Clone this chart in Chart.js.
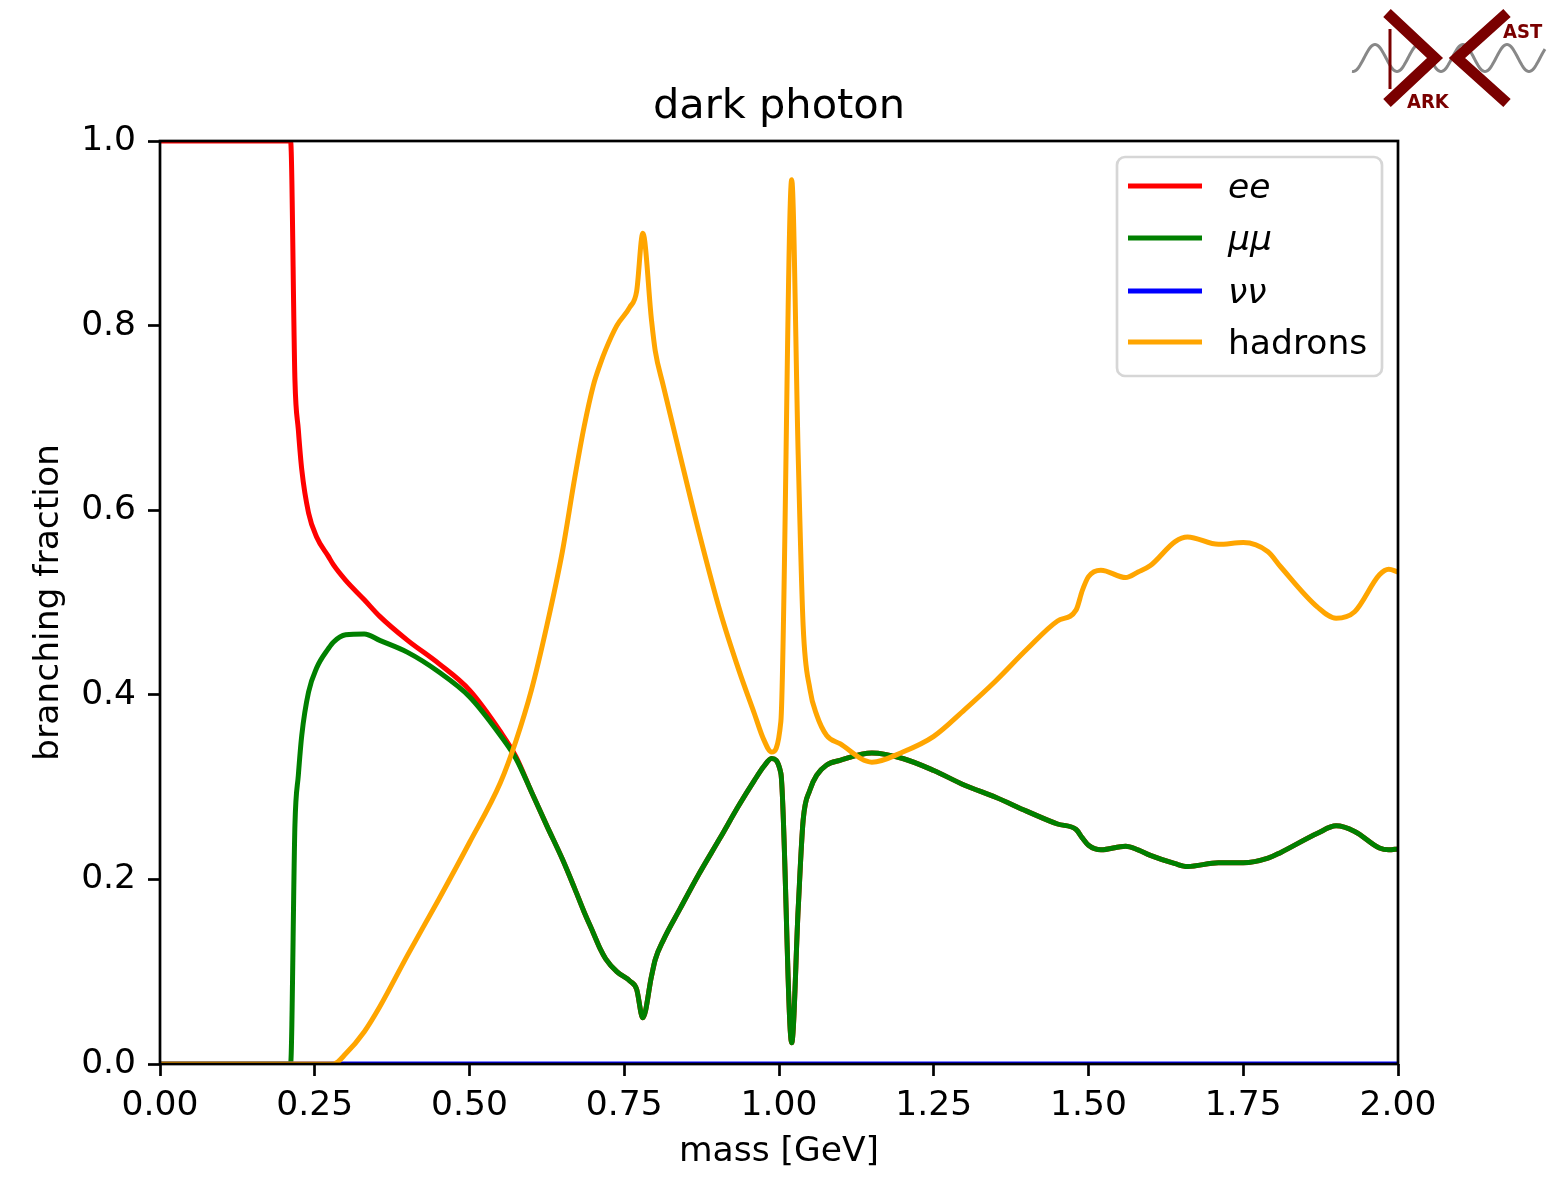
<!DOCTYPE html>
<html>
<head>
<meta charset="utf-8">
<title>dark photon</title>
<script src="https://cdn.jsdelivr.net/npm/chart.js@4.4.1/dist/chart.umd.min.js"></script>
<style>
  body { margin: 0; background: #fff; }
  canvas { display: block; }
</style>
</head>
<body>
<canvas id="chartCanvas" width="1547" height="1179"></canvas>
<script>
// mass grid in GeV (denser around the thresholds and the rho / phi resonances)
const mass = [0, 0.1, 0.2, 0.211, 0.218, 0.2235, 0.229, 0.24, 0.253, 0.272, 0.28, 0.30, 0.33, 0.355,
  0.40, 0.45, 0.50, 0.55, 0.575, 0.60, 0.625, 0.65, 0.67, 0.685, 0.70, 0.711, 0.72, 0.738, 0.759, 0.770, 0.780,
  0.794, 0.80, 0.813, 0.84, 0.87, 0.905, 0.935, 0.96, 0.975, 0.988, 1.003, 1.0205, 1.031, 1.039,
  1.05, 1.061, 1.077, 1.0985, 1.15, 1.20, 1.25, 1.30, 1.35, 1.40, 1.45, 1.48, 1.49, 1.50, 1.52,
  1.56, 1.58, 1.60, 1.64, 1.66, 1.71, 1.75, 1.79, 1.81, 1.87, 1.90, 1.93, 1.97, 1.985, 2.0];

const ee = [1, 1, 1, 1, 0.741, 0.687, 0.644, 0.597, 0.571, 0.550, 0.541, 0.524, 0.503, 0.485,
  0.459, 0.434, 0.405, 0.36, 0.333, 0.295, 0.258, 0.222, 0.19, 0.165, 0.142, 0.125, 0.114, 0.100, 0.090, 0.081, 0.050,
  0.095, 0.113, 0.134, 0.168, 0.205, 0.245, 0.28, 0.307, 0.322, 0.331, 0.315, 0.023, 0.168, 0.264,
  0.297, 0.313, 0.324, 0.329, 0.337, 0.331, 0.318, 0.302, 0.289, 0.274, 0.260, 0.254, 0.245, 0.237, 0.232,
  0.236, 0.232, 0.226, 0.217, 0.214, 0.218, 0.218, 0.223, 0.229, 0.25, 0.258, 0.252, 0.234, 0.232, 0.233];

const mumu = [0, 0, 0, 0, 0.259, 0.313, 0.356, 0.403, 0.429, 0.450, 0.457, 0.465, 0.466, 0.459,
  0.446, 0.425, 0.398, 0.356, 0.331, 0.295, 0.258, 0.222, 0.19, 0.165, 0.142, 0.125, 0.114, 0.100, 0.090, 0.081, 0.050,
  0.095, 0.113, 0.134, 0.168, 0.205, 0.245, 0.28, 0.307, 0.322, 0.331, 0.315, 0.023, 0.168, 0.264,
  0.297, 0.313, 0.324, 0.329, 0.337, 0.331, 0.318, 0.302, 0.289, 0.274, 0.260, 0.254, 0.245, 0.237, 0.232,
  0.236, 0.232, 0.226, 0.217, 0.214, 0.218, 0.218, 0.223, 0.229, 0.25, 0.258, 0.252, 0.234, 0.232, 0.233];

const nunuMass = [0, 2];
const nunu = [0, 0];

const hadrons = [0, 0, 0, 0, 0, 0, 0, 0, 0, 0, 0, 0.011, 0.035, 0.062,
  0.118, 0.178, 0.24, 0.305, 0.35, 0.405, 0.475, 0.555, 0.635, 0.69, 0.735, 0.758, 0.774, 0.80, 0.82, 0.837, 0.900,
  0.806, 0.773, 0.735, 0.66, 0.578, 0.49, 0.427, 0.38, 0.352, 0.338, 0.371, 0.958, 0.66, 0.475,
  0.406, 0.378, 0.356, 0.347, 0.327, 0.338, 0.355, 0.384, 0.415, 0.449, 0.48, 0.492, 0.513, 0.528, 0.535,
  0.527, 0.533, 0.540, 0.566, 0.571, 0.563, 0.565, 0.555, 0.539, 0.495, 0.483, 0.49, 0.53, 0.536, 0.533];

const labels = ['ee', 'μμ', 'νν', 'hadrons'];
const italic = [true, true, true, false];
const colors = ['#ff0000', '#008000', '#0000ff', '#ffa500'];

const xTicks = ['0.00', '0.25', '0.50', '0.75', '1.00', '1.25', '1.50', '1.75', '2.00'];
const yTicks = ['0.0', '0.2', '0.4', '0.6', '0.8', '1.0'];

const FONT = "'DejaVu Sans', sans-serif";
const SIZE = 34.5;

function pts(xs, ys) {
  return xs.map((m, i) => ({ x: m, y: ys[i] }));
}

function lineSet(label, data, color, order) {
  return {
    label: label,
    data: data,
    borderColor: color,
    backgroundColor: color,
    borderWidth: 5,
    pointRadius: 0,
    fill: false,
    cubicInterpolationMode: 'monotone',
    borderJoinStyle: 'round',
    clip: 0,
    order: order
  };
}

// frame, legend, title, axis labels and logo
const decorations = {
  id: 'decorations',
  afterDatasetsDraw(chart) {
    const ctx = chart.ctx;
    const a = chart.chartArea;
    ctx.save();
    ctx.strokeStyle = '#000';
    ctx.lineWidth = 2.7;
    ctx.strokeRect(a.left, a.top, a.right - a.left, a.bottom - a.top);

    // legend box
    const bx = 1117, by = 157, bw = 265, bh = 219, r = 8;
    ctx.beginPath();
    ctx.moveTo(bx + r, by);
    ctx.arcTo(bx + bw, by, bx + bw, by + bh, r);
    ctx.arcTo(bx + bw, by + bh, bx, by + bh, r);
    ctx.arcTo(bx, by + bh, bx, by, r);
    ctx.arcTo(bx, by, bx + bw, by, r);
    ctx.closePath();
    ctx.fillStyle = 'rgba(255,255,255,0.8)';
    ctx.fill();
    ctx.strokeStyle = '#d6d6d6';
    ctx.lineWidth = 2.7;
    ctx.stroke();

    const rows = [186, 238, 291, 342];
    chart.data.datasets.forEach((ds, i) => {
      const y = rows[i];
      ctx.strokeStyle = ds.borderColor;
      ctx.lineWidth = 5;
      ctx.beginPath();
      ctx.moveTo(1128, y);
      ctx.lineTo(1202, y);
      ctx.stroke();
      ctx.fillStyle = '#000';
      ctx.font = (italic[i] ? 'italic ' : '') + SIZE + 'px ' + FONT;
      ctx.textAlign = 'left';
      ctx.textBaseline = 'alphabetic';
      ctx.fillText(ds.label, 1228, y + 12);
    });
    ctx.restore();
  },
  afterDraw(chart) {
    const ctx = chart.ctx;
    const a = chart.chartArea;
    const cx = (a.left + a.right) / 2;
    ctx.save();
    ctx.fillStyle = '#000';
    ctx.textAlign = 'center';
    ctx.textBaseline = 'alphabetic';
    ctx.font = '41.5px ' + FONT;
    ctx.fillText('dark photon', cx, 118);
    ctx.font = SIZE + 'px ' + FONT;
    ctx.fillText('mass [GeV]', cx, 1161);
    ctx.translate(58, (a.top + a.bottom) / 2);
    ctx.rotate(-Math.PI / 2);
    ctx.fillText('branching fraction', 0, 0);
    ctx.restore();

    // logo
    ctx.save();
    ctx.strokeStyle = '#888888';
    ctx.lineWidth = 3;
    ctx.beginPath();
    for (let x = 1352; x <= 1545; x++) {
      const y = 58 - 13.5 * Math.sin(2 * Math.PI * (x - 1364) / 44);
      if (x === 1352) ctx.moveTo(x, y); else ctx.lineTo(x, y);
    }
    ctx.stroke();
    ctx.strokeStyle = '#7a0000';
    ctx.lineWidth = 11;
    ctx.lineJoin = 'miter';
    ctx.beginPath();
    ctx.moveTo(1387, 13); ctx.lineTo(1435, 58); ctx.lineTo(1387, 103);
    ctx.moveTo(1507, 13); ctx.lineTo(1457, 58); ctx.lineTo(1507, 103);
    ctx.stroke();
    ctx.lineWidth = 3;
    ctx.beginPath();
    ctx.moveTo(1390, 29); ctx.lineTo(1390, 89);
    ctx.stroke();
    ctx.fillStyle = '#7a0000';
    ctx.font = "bold 20px 'DejaVu Sans Condensed', 'DejaVu Sans', sans-serif";
    ctx.textAlign = 'left';
    ctx.fillText('AST', 1503, 38);
    ctx.fillText('ARK', 1407, 108);
    ctx.restore();
  }
};

const axisGrid = {
  display: true,
  drawOnChartArea: false,
  drawTicks: true,
  tickLength: 12,
  tickWidth: 2.7,
  tickColor: '#000'
};

new Chart('chartCanvas', {
  type: 'line',
  data: {
    datasets: [
      lineSet(labels[0], pts(mass, ee), colors[0], 4),
      lineSet(labels[1], pts(mass, mumu), colors[1], 3),
      lineSet(labels[2], pts(nunuMass, nunu), colors[2], 2),
      lineSet(labels[3], pts(mass, hadrons), colors[3], 1)
    ]
  },
  options: {
    responsive: false,
    animation: false,
    devicePixelRatio: 1,
    layout: { padding: { top: 141, right: 149, left: 0, bottom: 0 } },
    plugins: {
      legend: { display: false },
      title: { display: false },
      tooltip: { enabled: false }
    },
    scales: {
      x: {
        type: 'linear',
        min: 0,
        max: 2,
        afterFit: s => { s.height = 115; },
        afterBuildTicks: s => { s.ticks = xTicks.map(t => ({ value: parseFloat(t) })); },
        ticks: {
          callback: (v, i) => xTicks[i],
          font: { family: FONT, size: SIZE },
          color: '#000',
          padding: 9,
          maxRotation: 0,
          autoSkip: false
        },
        grid: axisGrid,
        border: { display: false }
      },
      y: {
        type: 'linear',
        min: 0,
        max: 1,
        afterFit: s => { s.width = 160; },
        afterBuildTicks: s => { s.ticks = yTicks.map(t => ({ value: parseFloat(t) })); },
        ticks: {
          callback: (v, i) => yTicks[i],
          font: { family: FONT, size: SIZE },
          color: '#000',
          padding: 12,
          autoSkip: false
        },
        grid: axisGrid,
        border: { display: false }
      }
    }
  },
  plugins: [decorations]
});
</script>
</body>
</html>
